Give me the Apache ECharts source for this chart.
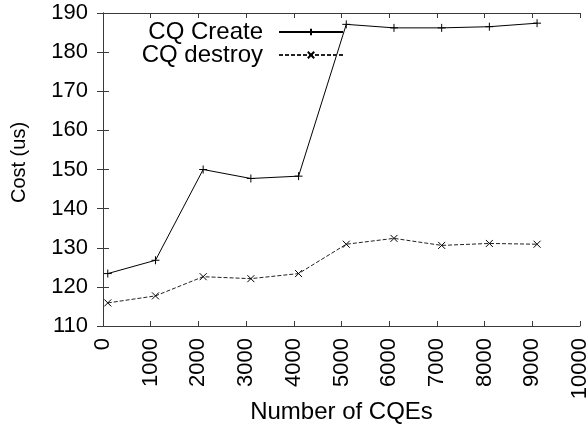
<!DOCTYPE html>
<html>
<head>
<meta charset="utf-8">
<script src="https://cdn.jsdelivr.net/npm/echarts@6/dist/echarts.min.js"></script>
<style>
  html, body { margin: 0; padding: 0; background: #ffffff; }
  #chart { width: 588px; height: 426px; }
</style>
</head>
<body>
<div id="chart"></div>
<script>
// Completion-queue cost measurements (microseconds) per number of CQEs
const cqeCounts   = [100, 1100, 2100, 3100, 4100, 5100, 6100, 7100, 8100, 9100];
const createCost  = [123.4, 126.8, 150.0, 147.7, 148.3, 187.1, 186.2, 186.2, 186.5, 187.4];
const destroyCost = [115.9, 117.7, 122.6, 122.1, 123.4, 130.9, 132.4, 130.6, 131.1, 130.9];

const seriesNames = ['CQ Create', 'CQ destroy'];
const xRange = { min: 0, max: 10000, step: 1000 };
const yRange = { min: 110, max: 190, step: 10 };

const FONT = '"Liberation Sans", Arial, Helvetica, sans-serif';
const INK = '#000000';
const FRAME = '#3a3a3a';

const plusMark  = 'path://M5,0L5,10M0,5L10,5';
const crossMark = 'path://M0,0L10,10M10,0L0,10';

function pairs(xs, ys) { return xs.map((x, i) => [x, ys[i]]); }
const plainNumber = v => String(v);

const frameLine = { show: true, lineStyle: { color: FRAME, width: 1 } };

const chart = echarts.init(document.getElementById('chart'), null, { renderer: 'canvas' });

chart.setOption({
  animation: false,
  backgroundColor: '#ffffff',
  grid: { left: 103, right: 8, top: 13, bottom: 100, containLabel: false, outerBoundsMode: 'none' },
  legend: {
    orient: 'vertical',
    right: 239,
    top: 15,
    align: 'right',
    itemWidth: 64,
    itemHeight: 8,
    itemGap: -1,
    data: seriesNames,
    textStyle: { fontFamily: FONT, fontSize: 24, color: INK, lineHeight: 20, padding: [0, 11, 0, 0] },
    selectedMode: false
  },
  xAxis: [
    {
      type: 'value', position: 'bottom',
      min: xRange.min, max: xRange.max, interval: xRange.step,
      name: 'Number of CQEs', nameLocation: 'middle', nameGap: 74, nameMoveOverlap: false,
      nameTextStyle: { fontFamily: FONT, fontSize: 24, color: INK },
      axisLine: frameLine,
      axisTick: { show: true, inside: true, length: 5, lineStyle: { color: FRAME } },
      axisLabel: { rotate: 90, margin: 12, fontFamily: FONT, fontSize: 22, color: INK, formatter: plainNumber },
      splitLine: { show: false }
    },
    {
      type: 'value', position: 'top',
      min: xRange.min, max: xRange.max, interval: xRange.step,
      axisLine: frameLine,
      axisTick: { show: true, inside: true, length: 5, lineStyle: { color: FRAME } },
      axisLabel: { show: false },
      splitLine: { show: false }
    }
  ],
  yAxis: [
    {
      type: 'value', position: 'left',
      min: yRange.min, max: yRange.max, interval: yRange.step,
      name: 'Cost (us)', nameLocation: 'middle', nameGap: 74, nameMoveOverlap: false,
      nameTextStyle: { fontFamily: FONT, fontSize: 20, color: INK, padding: [0, 0, 0, 14] },
      axisLine: frameLine,
      axisTick: { show: true, inside: true, length: 6, lineStyle: { color: FRAME } },
      axisLabel: { margin: 15, fontFamily: FONT, fontSize: 22, color: INK, formatter: plainNumber },
      splitLine: { show: false }
    },
    {
      type: 'value', position: 'right',
      min: yRange.min, max: yRange.max, interval: yRange.step,
      axisLine: frameLine,
      axisTick: { show: true, inside: true, length: 6, lineStyle: { color: FRAME } },
      axisLabel: { show: false },
      splitLine: { show: false }
    }
  ],
  series: [
    {
      name: seriesNames[0],
      type: 'line',
      data: pairs(cqeCounts, createCost),
      symbol: plusMark,
      symbolSize: 8,
      showAllSymbol: true,
      lineStyle: { color: INK, width: 1 },
      itemStyle: { color: 'rgba(0,0,0,0)', borderColor: INK, borderWidth: 1 },
      emphasis: { disabled: true }
    },
    {
      name: seriesNames[1],
      type: 'line',
      data: pairs(cqeCounts, destroyCost),
      symbol: crossMark,
      symbolSize: 7,
      showAllSymbol: true,
      lineStyle: { color: '#222222', width: 1, type: [4, 2] },
      itemStyle: { color: 'rgba(0,0,0,0)', borderColor: INK, borderWidth: 1 },
      emphasis: { disabled: true }
    }
  ]
});
</script>
</body>
</html>
